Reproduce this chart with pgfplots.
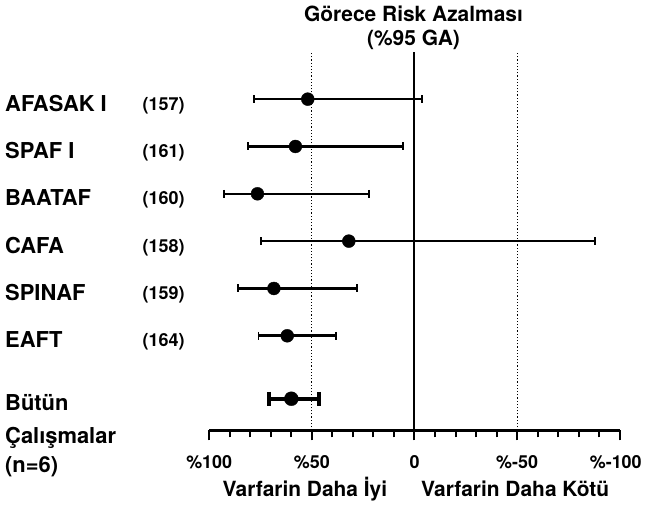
\documentclass[border=0pt]{standalone}
\usepackage{pgfplots}
\pgfplotsset{compat=1.18}
\usepackage{pgfplotstable}
\usepackage{fontspec}
\setmainfont{TeX Gyre Heros}
\pgfplotstableread{
row est
7 52
6 58
5 76.5
4 32
3 68.5
2 62
}\trials
\pgfplotstableread{
row est
0.67 60
}\pooled
\begin{document}
\begin{tikzpicture}[x=1pt,y=1pt]
\path (-210,-79) rectangle (435,432);
\begin{axis}[at={(0,0)}, anchor=south west, scale only axis,
  width=412pt, height=380pt,
  xmin=-100, xmax=100, x dir=reverse, ymin=0, ymax=8,
  axis x line=bottom, axis y line=none,
  x axis line style={-, line width=2.5pt},
  xtick={100,50,0,-50,-100},
  xticklabels={\%100,\%50,0,\%-50,\hspace*{-8pt}\%-100},
  minor x tick num=4, tick align=outside,
  major tick length=10pt, minor tick length=7pt,
  tick style={black, line width=2pt},
  x tick label style={font=\fontsize{18}{18}\selectfont\bfseries, anchor=base, yshift=-28pt},
  clip=false]
% reference lines
\addplot[black, line width=2pt] coordinates {(0,0) (0,8)};
\addplot[black, line width=1pt, dash pattern=on 1.2pt off 2pt] coordinates {(50,0) (50,8)};
\addplot[black, line width=1pt, dash pattern=on 1.2pt off 2pt] coordinates {(-50,0) (-50,8)};
% confidence intervals
\addplot[black, line width=2.6pt, mark=|, mark size=4pt, mark options={line width=2pt}] coordinates {(78,7) (-3.5,7)};
\addplot[black, line width=2.6pt, mark=|, mark size=4pt, mark options={line width=2pt}] coordinates {(81,6) (5.5,6)};
\addplot[black, line width=2.6pt, mark=|, mark size=4pt, mark options={line width=2pt}] coordinates {(93,5) (22,5)};
\addplot[black, line width=2.6pt, mark=|, mark size=4pt, mark options={line width=2pt}] coordinates {(75,4) (-88,4)};
\addplot[black, line width=2.6pt, mark=|, mark size=4pt, mark options={line width=2pt}] coordinates {(86,3) (28,3)};
\addplot[black, line width=2.6pt, mark=|, mark size=4pt, mark options={line width=2pt}] coordinates {(76,2) (38,2)};
\addplot[black, line width=4pt, mark=|, mark size=7pt, mark options={line width=3.5pt}] coordinates {(71,0.67) (46.5,0.67)};
% point estimates
\addplot[black, only marks, mark=*, mark size=6.5pt, mark options={fill=black}] table[x=est, y=row] {\trials};
\addplot[black, only marks, mark=*, mark size=7pt, mark options={fill=black}] table[x=est, y=row] {\pooled};
\end{axis}
\tikzset{lab/.style={anchor=base west, font=\fontsize{22}{22}\selectfont\bfseries, inner sep=0pt},
         num/.style={anchor=base west, font=\fontsize{18}{18}\selectfont\bfseries, inner sep=0pt},
         tit/.style={anchor=base, font=\fontsize{21}{21}\selectfont\bfseries, inner sep=0pt}}
\node[lab] at (-205,320.5) {AFASAK I};
\node[lab] at (-205,273) {SPAF I};
\node[lab] at (-205,225.5) {BAATAF};
\node[lab] at (-205,178) {CAFA};
\node[lab] at (-205,130.5) {SPINAF};
\node[lab] at (-205,83) {EAFT};
\node[num] at (-67,321.5) {(157)};
\node[num] at (-67,274) {(161)};
\node[num] at (-67,226.5) {(160)};
\node[num] at (-67,179) {(158)};
\node[num] at (-67,131.5) {(159)};
\node[num] at (-67,84) {(164)};
\node[lab] at (-205,20) {Bütün};
\node[lab] at (-205,-13) {Çalışmalar};
\node[lab] at (-205,-42) {(n=6)};
\node[tit] at (205,410) {Görece Risk Azalması};
\node[tit] at (205,386) {(\%95 GA)};
\node[tit] at (96,-66) {Varfarin Daha İyi};
\node[tit] at (307,-66) {Varfarin Daha Kötü};
\end{tikzpicture}
\end{document}
